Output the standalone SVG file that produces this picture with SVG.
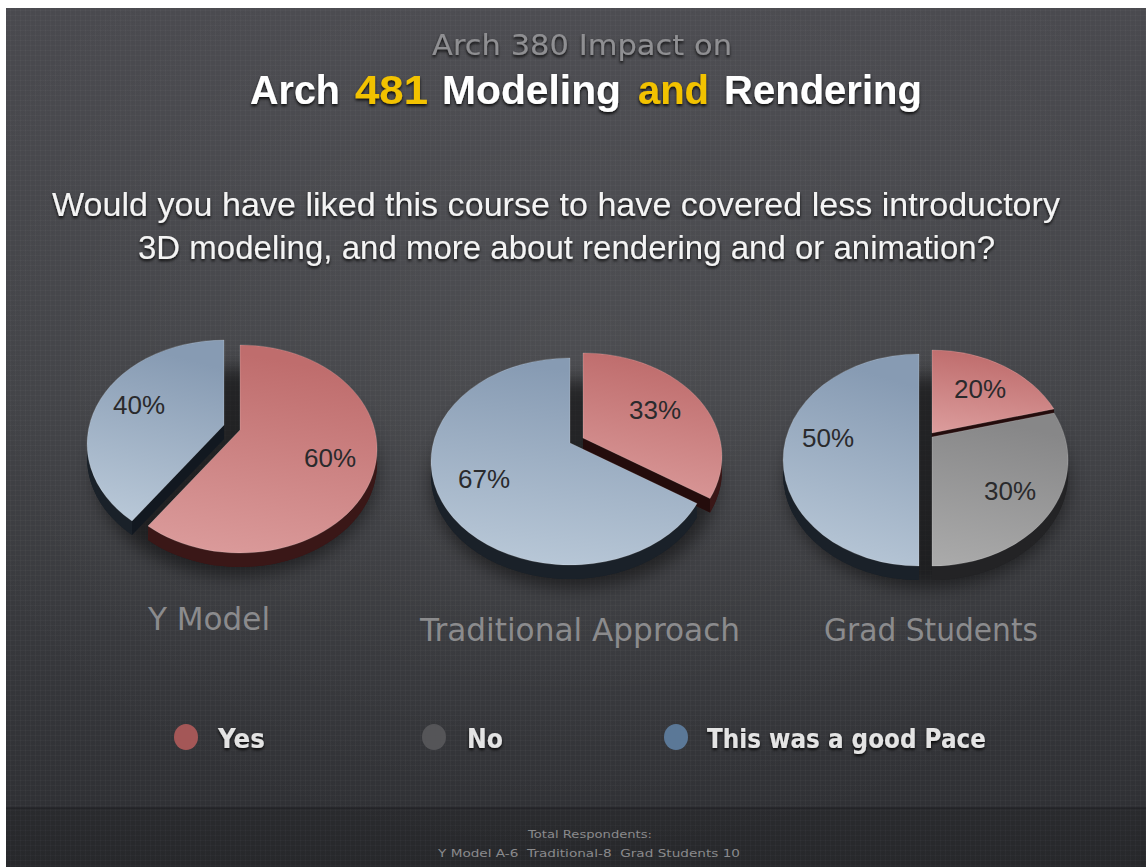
<svg xmlns="http://www.w3.org/2000/svg" width="1146" height="867" viewBox="0 0 1146 867">
<defs>
<linearGradient id="bg" x1="0" y1="0" x2="0" y2="1">
<stop offset="0" stop-color="#4a4a4f"/>
<stop offset="0.45" stop-color="#424347"/>
<stop offset="1" stop-color="#2d2e32"/>
</linearGradient>
<radialGradient id="spot" cx="0.5" cy="0.4" r="0.6">
<stop offset="0" stop-color="#fff" stop-opacity="0.05"/>
<stop offset="1" stop-color="#fff" stop-opacity="0"/>
</radialGradient>
<pattern id="tex" width="5" height="5" patternUnits="userSpaceOnUse">
<path d="M0 0.5H5M0.5 0V5" stroke="#fff" stroke-opacity="0.025" stroke-width="1"/>
</pattern>
<linearGradient id="gRed" x1="0.2" y1="0" x2="0" y2="1">
<stop offset="0" stop-color="#bf6d6d"/>
<stop offset="1" stop-color="#dc9d9d"/>
</linearGradient>
<linearGradient id="gBlue" x1="0.2" y1="0" x2="0" y2="1">
<stop offset="0" stop-color="#879bb3"/>
<stop offset="1" stop-color="#bccbda"/>
</linearGradient>
<linearGradient id="gGray" x1="0.2" y1="0" x2="0" y2="1">
<stop offset="0" stop-color="#878788"/>
<stop offset="1" stop-color="#ababab"/>
</linearGradient>
<filter id="soft" x="-30%" y="-30%" width="160%" height="160%">
<feGaussianBlur stdDeviation="9"/>
</filter>
<filter id="ts" x="-5%" y="-40%" width="110%" height="180%">
<feDropShadow dx="0" dy="2" stdDeviation="1.5" flood-color="#000" flood-opacity="0.85"/>
</filter>
</defs>
<style>
.pct{font-family:"Liberation Sans",Arial,sans-serif;font-size:26px;fill:#2a2a2c;text-anchor:middle}
.cap{font-family:"DejaVu Sans",sans-serif;font-size:32px;fill:#8b8b8d}
.leg{font-family:"DejaVu Sans",sans-serif;font-size:26px;font-weight:bold;fill:#e4e4e4}
.q{font-family:"Liberation Sans",Arial,sans-serif;font-size:33px;fill:#f4f4f4}
.t2{font-family:"Liberation Sans",Arial,sans-serif;font-size:41px;font-weight:bold;fill:#ffffff}
.hl{fill:#f2c200}
.foot{font-family:"DejaVu Sans",sans-serif;font-size:11px;fill:#8a8a8c}
.sr{fill:#3a1717}
.sb{fill:#1a2129}
.sg{fill:#232325}
.cr{fill:#240c0c}
.cb{fill:#121820}
.tr{fill:url(#gRed)}
.tb{fill:url(#gBlue)}
.tg{fill:url(#gGray)}
.top{stroke:#fff;stroke-opacity:0.18;stroke-width:1}
.shadow{fill:#000;opacity:0.5}
</style>

<g id="background">
<rect x="0" y="0" width="1146" height="867" fill="#ffffff"/>
<rect x="6" y="8" width="1140" height="859" fill="url(#bg)"/>
<rect x="6" y="8" width="1140" height="859" fill="url(#spot)"/>
<rect x="6" y="8" width="1140" height="859" fill="url(#tex)"/>
<rect x="6" y="808" width="1140" height="59" fill="#000" opacity="0.12"/>
<line x1="6" y1="808" x2="1146" y2="808" stroke="#1c1d20" stroke-opacity="0.6" stroke-width="1.5"/>
</g>

<g id="title" filter="url(#ts)">
<text x="432" y="55" textLength="300" lengthAdjust="spacingAndGlyphs" font-family="DejaVu Sans, sans-serif" font-size="29" fill="#8f8f92">Arch 380 Impact on</text>
<text class="t2" x="250" y="104" textLength="90" lengthAdjust="spacingAndGlyphs">Arch</text>
<text class="t2 hl" x="355" y="104" textLength="73" lengthAdjust="spacingAndGlyphs">481</text>
<text class="t2" x="442" y="104" textLength="179" lengthAdjust="spacingAndGlyphs">Modeling</text>
<text class="t2 hl" x="638" y="104" textLength="71" lengthAdjust="spacingAndGlyphs">and</text>
<text class="t2" x="724" y="104" textLength="198" lengthAdjust="spacingAndGlyphs">Rendering</text>
</g>

<g id="question" filter="url(#ts)">
<text class="q" x="52" y="216" textLength="1008" lengthAdjust="spacingAndGlyphs">Would you have liked this course to have covered less introductory</text>
<text class="q" x="138" y="259" textLength="857" lengthAdjust="spacingAndGlyphs">3D modeling, and more about rendering and or animation?</text>
</g>

<g id="pie-ymodel">
<ellipse class="shadow" cx="236" cy="472" rx="140" ry="104" filter="url(#soft)"/>
<g transform="translate(-16,-5)">
<path class="sb" d="M240,430 L148,526 A137,104 0 0 1 240,345 Z" transform="translate(0,14)"/>
<path class="sb" d="M148,526 A137,104 0 0 1 240,345 L240,359 A137,104 0 0 0 148,540 Z"/>
<path class="cb" d="M240,430 L148,526 L148,540 L240,444 Z"/>
</g>
<path class="sr" d="M240,430 L240,345 A137,104 0 1 1 148,526 Z" transform="translate(0,14)"/>
<path class="sr" d="M240,345 A137,104 0 1 1 148,526 L148,540 A137,104 0 1 0 240,359 Z"/>
<path class="tb top" transform="translate(-16,-5)" d="M240,430 L148,526 A137,104 0 0 1 240,345 Z"/>
<path class="tr top" d="M240,430 L240,345 A137,104 0 1 1 148,526 Z"/>
<text class="pct" x="139" y="414">40%</text>
<text class="pct" x="330" y="467">60%</text>
<text class="cap" x="148" y="630" textLength="122" lengthAdjust="spacingAndGlyphs">Y Model</text>
</g>

<g id="pie-traditional">
<ellipse class="shadow" cx="574" cy="484" rx="142" ry="104" filter="url(#soft)"/>
<path class="sb" d="M570,443 L697,503.5 A139,103.5 0 1 1 570,358 Z" transform="translate(0,14)"/>
<path class="sb" d="M697,503.5 A139,103.5 0 1 1 570,358 L570,372 A139,103.5 0 1 0 697,517.5 Z"/>
<g transform="translate(13,-5)">
<path class="sr" d="M570,443 L570,358 A139,103.5 0 0 1 697,503.5 Z" transform="translate(0,14)"/>
<path class="sr" d="M570,358 A139,103.5 0 0 1 697,503.5 L697,517.5 A139,103.5 0 0 0 570,372 Z"/>
<path class="cr" d="M570,443 L697,503.5 L697,517.5 L570,457 Z"/>
</g>
<path class="tb top" d="M570,443 L697,503.5 A139,103.5 0 1 1 570,358 Z"/>
<path class="tr top" transform="translate(13,-5)" d="M570,443 L570,358 A139,103.5 0 0 1 697,503.5 Z"/>
<text class="pct" x="484" y="488">67%</text>
<text class="pct" x="655" y="419">33%</text>
<text class="cap" x="420" y="641" textLength="320" lengthAdjust="spacingAndGlyphs">Traditional Approach</text>
</g>

<g id="pie-grad">
<ellipse class="shadow" cx="927" cy="482" rx="140" ry="106" filter="url(#soft)"/>
<g transform="translate(-6,0)">
<path class="sb" d="M925,437 L925,566 A136,106 0 0 1 925,354 Z" transform="translate(0,14)"/>
<path class="sb" d="M925,566 A136,106 0 0 1 925,354 L925,368 A136,106 0 0 0 925,580 Z"/>
</g>
<g transform="translate(7,0)">
<path class="sg" d="M925,437 L1047,413 A136,106 0 0 1 925,566 Z" transform="translate(0,14)"/>
<path class="sg" d="M1047,413 A136,106 0 0 1 925,566 L925,580 A136,106 0 0 0 1047,427 Z"/>
</g>
<g transform="translate(7,-4)">
<path class="sr" d="M925,437 L925,354 A136,106 0 0 1 1047,413 Z" transform="translate(0,14)"/>
<path class="sr" d="M925,354 A136,106 0 0 1 1047,413 L1047,427 A136,106 0 0 0 925,368 Z"/>
<path class="cr" d="M925,437 L1047,413 L1047,427 L925,451 Z"/>
</g>
<path class="tb top" transform="translate(-6,0)" d="M925,437 L925,566 A136,106 0 0 1 925,354 Z"/>
<path class="tg top" transform="translate(7,0)" d="M925,437 L1047,413 A136,106 0 0 1 925,566 Z"/>
<path class="tr top" transform="translate(7,-4)" d="M925,437 L925,354 A136,106 0 0 1 1047,413 Z"/>
<text class="pct" x="828" y="447">50%</text>
<text class="pct" x="980" y="398">20%</text>
<text class="pct" x="1010" y="500">30%</text>
<text class="cap" x="824" y="641" textLength="214" lengthAdjust="spacingAndGlyphs">Grad Students</text>
</g>

<g id="legend">
<ellipse cx="186" cy="737" rx="12" ry="13" fill="#a45757"/>
<ellipse cx="434" cy="737" rx="12" ry="13" fill="#555558"/>
<ellipse cx="676" cy="737" rx="12" ry="13" fill="#5b7897"/>
<g filter="url(#ts)">
<text class="leg" x="218" y="748" textLength="47" lengthAdjust="spacingAndGlyphs">Yes</text>
<text class="leg" x="467" y="748" textLength="36" lengthAdjust="spacingAndGlyphs">No</text>
<text class="leg" x="707" y="748" textLength="279" lengthAdjust="spacingAndGlyphs">This was a good Pace</text>
</g>
</g>

<g id="footer">
<text class="foot" x="528" y="838" textLength="124" lengthAdjust="spacingAndGlyphs">Total Respondents:</text>
<text class="foot" x="438" y="857" textLength="302" lengthAdjust="spacingAndGlyphs" xml:space="preserve">Y Model A-6  Traditional-8  Grad Students 10</text>
</g>
</svg>
